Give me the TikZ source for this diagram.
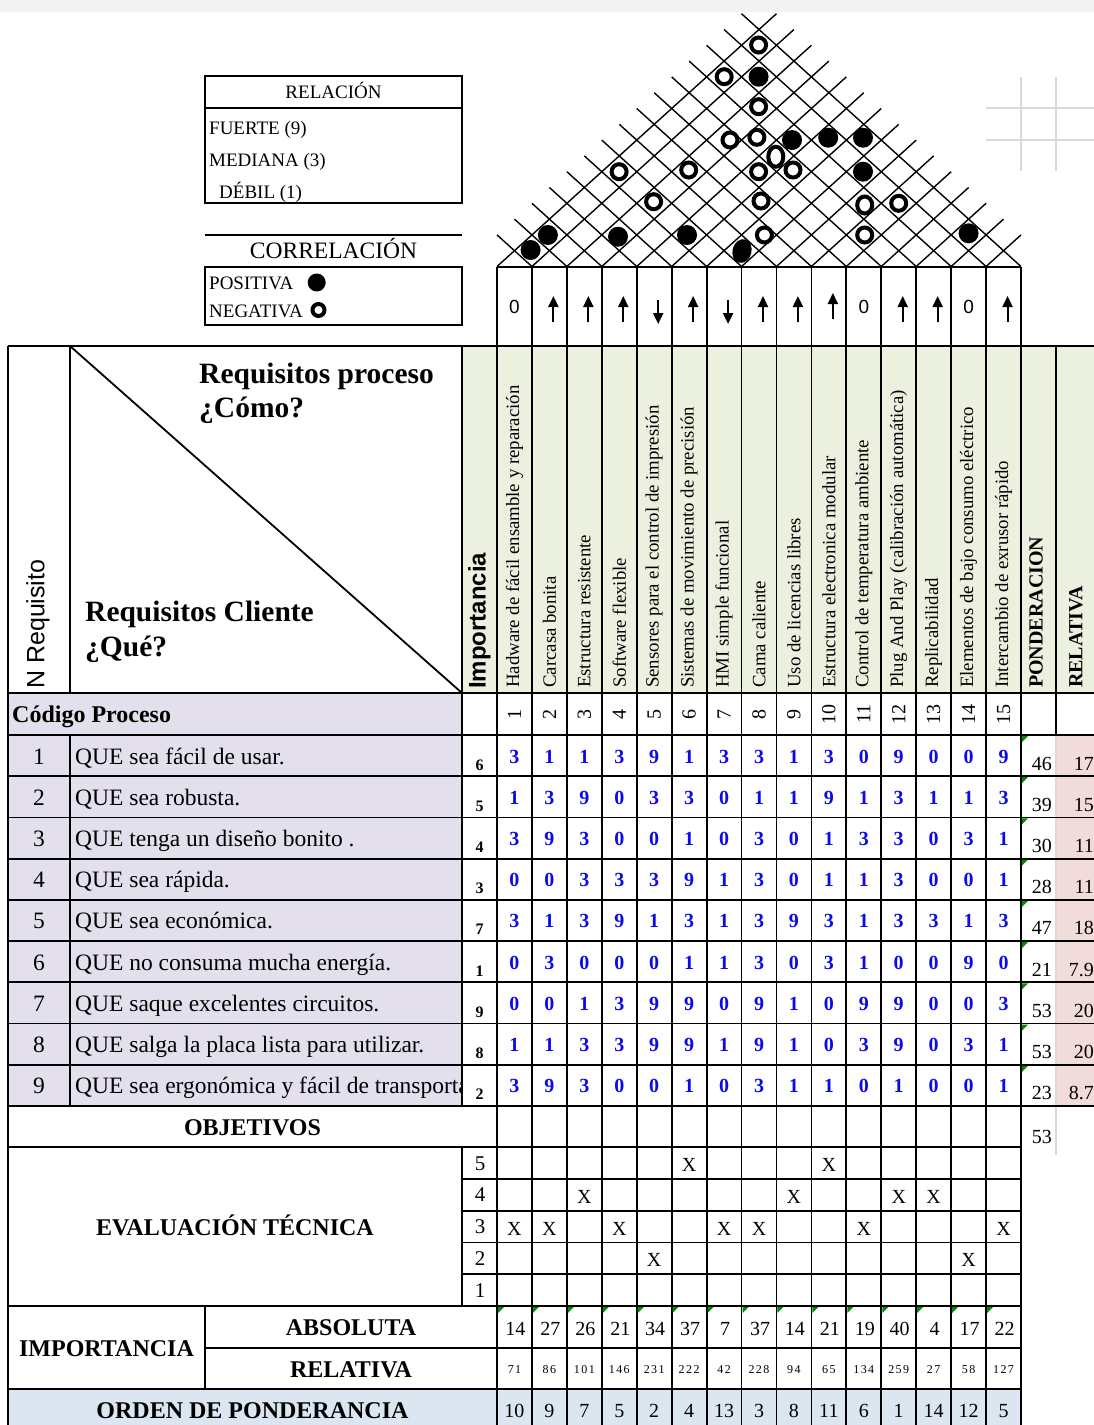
\documentclass[tikz,border=0pt]{standalone}
\usepackage{fontspec}
\setmainfont{Liberation Serif}
\setsansfont{Liberation Sans}
\usetikzlibrary{arrows.meta,shapes.geometric}
\definecolor{hgreen}{RGB}{235,241,222}
\definecolor{lav}{RGB}{228,223,236}
\definecolor{pinkc}{RGB}{242,220,219}
\definecolor{lblue}{RGB}{220,230,241}
\definecolor{bandgray}{RGB}{242,242,242}
\definecolor{gridgray}{RGB}{217,217,217}
\definecolor{valblue}{RGB}{10,10,235}
\definecolor{cmtgreen}{RGB}{0,140,0}
\newcommand{\fs}[1]{\fontsize{#1}{#1}\selectfont}
\def\cw{34.9333}
\def\rh{15.8}
\def\rb{266.5}
\def\rw{41.222}
\begin{document}
\begin{tikzpicture}[x=1pt,y=-1pt,
  ln/.style={line width=1.8pt},
  rfl/.style={line width=1.4pt},
  opn/.style={draw=black,circle,line width=4pt,fill=white,minimum size=15pt,inner sep=0pt},
  fld/.style={fill=black,circle,minimum size=20pt,inner sep=0pt},
  hdr/.style={font=\fs{18.8}, rotate=90, anchor=west, inner sep=0pt},
  val/.style={font=\bfseries\fs{20}, text=valblue, anchor=base, inner sep=0pt},
  imp/.style={font=\bfseries\fs{16}, anchor=base, inner sep=0pt},
  reg/.style={font=\fs{20}, anchor=base, inner sep=0pt},
  lbl/.style={font=\bfseries\fs{24}, anchor=base, inner sep=0pt},
  leg/.style={font=\fs{19}, anchor=base west, inner sep=0pt},
  upar/.style={line width=2pt,-{Triangle[length=11pt,width=10pt]}},
  cmt/.style={fill=cmtgreen},
]
\useasboundingbox (0,0) rectangle (1094,1425);
% ---------- fills
\fill[bandgray] (0,0) rectangle (1094,12);
\fill[hgreen] (462,346) rectangle (1094,693);
\fill[lav] (8,693) rectangle (462,1106);
\fill[pinkc] (1056,735) rectangle (1094,1106);
\fill[lblue] (8,1389) rectangle (1021,1425);
% faint sheet grid
\draw[gridgray,line width=2pt] (1021,77)--(1021,171) (1056,77)--(1056,171) (986,108)--(1094,108) (986,140)--(1094,140);
\draw[gridgray,line width=1.5pt] (1056,1106)--(1056,1155);
\draw[gridgray,line width=1.2pt] (1056,735)--(1056,1106);

% ---------- roof
\foreach \k in {0,...,14} \draw[rfl] ({497+\k*\cw},\rb) -- ++({(16-\k)*\cw/2},{-(16-\k)*\rh});
\foreach \k in {1,...,15} \draw[rfl] ({497+\k*\cw},\rb) -- ++({-(\k+1)*\cw/2},{-(\k+1)*\rh});
\foreach \p [count=\i] in {(758.6,45),(724.2,76.7),(758.6,106.7),(730,140),(756.9,137.3),(619.1,171.7),(688.7,170),(758.6,171.7),(793,170),(653.6,201.7),(761,201),(898.7,203.3),(764.4,235),(864.7,235)}
  \node[opn] (ro\i) at \p {};
\node[opn,ellipse,minimum width=15pt,minimum height=20pt] (roA) at (775.8,156.7) {};
\node[opn,ellipse,minimum width=15pt,minimum height=17pt] (roB) at (864.7,205) {};
\foreach \p [count=\i] in {(758.6,76.7),(792,140),(828.2,137.7),(863,137.7),(863,171.7),(547.9,235),(530.6,250),(618,236.7),(687,235),(968.6,233.3)}
  \node[fld] (rf\i) at \p {};
\fill[rotate around={-15:(742,251)}] (742,251) ellipse[x radius=9.5pt,y radius=12pt];

% ---------- direction row
\draw[ln] (497,267)--(1021,267);
\foreach \k in {1,11,14} \node[font=\sffamily\fs{19},inner sep=0pt] (z\k) at ({497+(\k-0.5)*\cw},306.5) {0};
\foreach \k in {2,3,4,6,8,9,12,13,15} {
  \coordinate (ua\k) at ({497+(\k-0.5)*\cw+4},322);
  \coordinate (ub\k) at ({497+(\k-0.5)*\cw+4},296);
  \draw[upar] (ua\k) -- (ub\k);
}
\coordinate (ua10) at ({497+9.5*\cw+4},319);
\coordinate (ub10) at ({497+9.5*\cw+4},293);
\draw[upar] (ua10) -- (ub10);
\foreach \k in {5,7} {
  \coordinate (da\k) at ({497+(\k-0.5)*\cw+4},300);
  \coordinate (db\k) at ({497+(\k-0.5)*\cw+4},324);
  \draw[upar] (da\k) -- (db\k);
}

% ---------- grid lines
\draw[ln] (8,346)--(1094,346);
\draw[ln] (8,693)--(1094,693);
\foreach \r in {0,...,9} \draw[ln] (8,{735+\r*\rw})--(1094,{735+\r*\rw});
\draw[ln] (8,1147)--(1021,1147);
\foreach \e in {1,...,4} \draw[ln] (462,{1147+\e*31.8})--(1021,{1147+\e*31.8});
\draw[ln] (8,1306)--(1021,1306);
\draw[ln] (205,1348)--(1021,1348);
\draw[ln] (8,1389)--(1021,1389);
\draw[ln] (8,346)--(8,1425);
\draw[ln] (70,346)--(70,693) (70,735)--(70,1106);
\draw[ln] (462,346)--(462,1106) (462,1147)--(462,1306);
\draw[ln] (205,1306)--(205,1389);
\foreach \k in {0,...,15} \draw[ln] ({497+\k*\cw},267)--({497+\k*\cw},1425);
\draw[ln] (1056,346)--(1056,735);
\draw[ln] (70,346)--(462,693);

% ---------- legends
\draw[ln] (205,76) rectangle (462,203);
\draw[ln] (205,108)--(462,108);
\draw[ln] (205,235)--(462,235);
\draw[ln] (205,267) rectangle (462,325);
\node[font=\fs{19},anchor=base,inner sep=0pt] (lrel) at (333.5,98) {RELACIÓN};
\node[leg] (lf) at (209,134) {FUERTE (9)};
\node[leg] (lm) at (209,166) {MEDIANA (3)};
\node[leg] (ld) at (219,198) {DÉBIL (1)};
\node[font=\fs{23.5},anchor=base,inner sep=0pt] (lcor) at (333.5,258) {CORRELACIÓN};
\node[leg] (lp) at (209,289.5) {POSITIVA};
\node[leg] (lneg) at (209,317) {NEGATIVA};
\node[fill=black,circle,minimum size=18pt,inner sep=0pt] (lpc) at (316.7,282.5) {};
\node[draw=black,circle,line width=4pt,minimum size=12pt,inner sep=0pt] (lnc) at (318.5,310) {};

% ---------- header texts
\node[font=\bfseries\fs{29.5},anchor=base west,inner sep=0pt] (hp1) at (199,383) {Requisitos proceso};
\node[font=\bfseries\fs{29.5},anchor=base west,inner sep=0pt] (hp2) at (199,417) {¿Cómo?};
\node[font=\bfseries\fs{29.5},anchor=base west,inner sep=0pt] (hc1) at (85,621) {Requisitos Cliente};
\node[font=\bfseries\fs{29.5},anchor=base west,inner sep=0pt] (hc2) at (85,656) {¿Qué?};
\node[font=\sffamily\fs{25},rotate=90,anchor=west,inner sep=0pt] (nreq) at (38,689) {N Requisito};
\node[font=\sffamily\bfseries\fs{24},rotate=90,anchor=west,inner sep=0pt] (himp) at (479.5,689) {Importancia};
\foreach \t [count=\k] in {{Hadware de fácil ensamble y reparación},{Carcasa bonita},{Estructura resistente},{Software flexible},{Sensores para el control de impresión},{Sistemas de movimiento de precisión},{HMI simple funcional},{Cama caliente},{Uso de licencias libres},{Estructura electronica modular},{Control de temperatura ambiente},{Plug And Play (calibración automática)},{Replicabilidad},{Elementos de bajo consumo eléctrico},{Intercambio de exrusor rápido}}
  \node[hdr] (h\k) at ({497+(\k-0.5)*\cw},688) {\t};
\node[font=\bfseries\fs{20},rotate=90,anchor=west,inner sep=0pt] (hpon) at (1036,688) {PONDERACION};
\node[font=\bfseries\fs{20},rotate=90,anchor=west,inner sep=0pt] (hrel) at (1076,688) {RELATIVA};

% ---------- codigo row
\node[font=\bfseries\fs{24},anchor=base west,inner sep=0pt] (cod) at (12,722) {Código Proceso};
\foreach \k in {1,...,15} \node[font=\fs{20},rotate=90,inner sep=0pt] (n\k) at ({497+(\k-0.5)*\cw},714) {\k};

% ---------- customer rows
\foreach \r in {1,...,9} \node[font=\fs{23.5},anchor=base,inner sep=0pt] (rn\r) at (39,{735+(\r-1)*\rw+29}) {\r};
\begin{scope}
\clip (71,735) rectangle (461,1106);
\foreach \t [count=\r] in {{QUE sea fácil de usar.},{QUE sea robusta.},{QUE tenga un diseño bonito .},{QUE sea rápida.},{QUE sea económica.},{QUE no consuma mucha energía.},{QUE saque excelentes circuitos.},{QUE salga la placa lista para utilizar.},{QUE sea ergonómica y fácil de transporta}}
  \node[font=\fs{23.5},anchor=base west,inner sep=0pt] (rt\r) at (75,{735+(\r-1)*\rw+29}) {\t};
\end{scope}
\foreach \v [count=\r] in {6,5,4,3,7,1,9,8,2} \node[imp] (ri\r) at (479.5,{735+(\r-1)*\rw+35}) {\v};
\foreach \row [count=\r] in {{3,1,1,3,9,1,3,3,1,3,0,9,0,0,9},{1,3,9,0,3,3,0,1,1,9,1,3,1,1,3},{3,9,3,0,0,1,0,3,0,1,3,3,0,3,1},{0,0,3,3,3,9,1,3,0,1,1,3,0,0,1},{3,1,3,9,1,3,1,3,9,3,1,3,3,1,3},{0,3,0,0,0,1,1,3,0,3,1,0,0,9,0},{0,0,1,3,9,9,0,9,1,0,9,9,0,0,3},{1,1,3,3,9,9,1,9,1,0,3,9,0,3,1},{3,9,3,0,0,1,0,3,1,1,0,1,0,0,1}}
  \foreach \v [count=\c] in \row
    \node[val] (m\r-\c) at ({497+(\c-0.5)*\cw},{735+(\r-1)*\rw+28}) {\v};
\foreach \v [count=\r] in {46,39,30,28,47,21,53,53,23} {
  \node[font=\fs{20},anchor=base east,inner sep=0pt] (po\r) at (1052,{735+(\r-1)*\rw+35}) {\v};
  \fill[cmt] (1022,{735+(\r-1)*\rw+1}) -- ++(6,0) -- ++(-6,6) -- cycle;
}
\foreach \v [count=\r] in {17,15,11,11,18,7.9,20,20,8.7}
  \node[font=\fs{20},anchor=base east,inner sep=0pt] (re\r) at (1094,{735+(\r-1)*\rw+35}) {\v};

% ---------- objetivos
\node[lbl] (obj) at (252.5,1135) {OBJETIVOS};
\node[font=\fs{20},anchor=base east,inner sep=0pt] (po10) at (1052,1143) {53};

% ---------- evaluacion tecnica
\node[lbl] (evt) at (235,1235) {EVALUACIÓN TÉCNICA};
\foreach \v [count=\e] in {5,4,3,2,1} \node[font=\fs{21},anchor=base,inner sep=0pt] (ev\e) at (480,{1147+(\e-1)*31.8+23}) {\v};
\foreach \e/\c in {1/6,1/10,2/3,2/9,2/12,2/13,3/1,3/2,3/4,3/7,3/8,3/11,3/15,4/5,4/14}
  \node[font=\fs{20},anchor=base,inner sep=0pt] (x\e-\c) at ({497+(\c-0.5)*\cw},{1147+(\e-1)*31.8+24.5}) {X};

% ---------- importancia
\node[lbl] (impo) at (106.5,1356) {IMPORTANCIA};
\node[lbl] (abs) at (351,1335) {ABSOLUTA};
\node[lbl] (rel) at (351,1377) {RELATIVA};
\foreach \v [count=\c] in {14,27,26,21,34,37,7,37,14,21,19,40,4,17,22} {
  \node[font=\fs{20},anchor=base,inner sep=0pt] (ab\c) at ({497+(\c-0.5)*\cw+1},1335) {\v};
  \fill[cmt] ({497+(\c-1)*\cw+1},1307) -- ++(6,0) -- ++(-6,6) -- cycle;
}
\foreach \v [count=\c] in {71,86,101,146,231,222,42,228,94,65,134,259,27,58,127}
  \node[font=\fs{12}\addfontfeature{LetterSpace=12},anchor=base,inner sep=0pt] (rl\c) at ({497+(\c-0.5)*\cw},1373) {\v};

% ---------- orden
\node[lbl] (ord) at (252.5,1418) {ORDEN DE PONDERANCIA};
\foreach \v [count=\c] in {10,9,7,5,2,4,13,3,8,11,6,1,14,12,5}
  \node[font=\fs{20},anchor=base,inner sep=0pt] (or\c) at ({497+(\c-0.5)*\cw},1417) {\v};
\end{tikzpicture}
\end{document}
